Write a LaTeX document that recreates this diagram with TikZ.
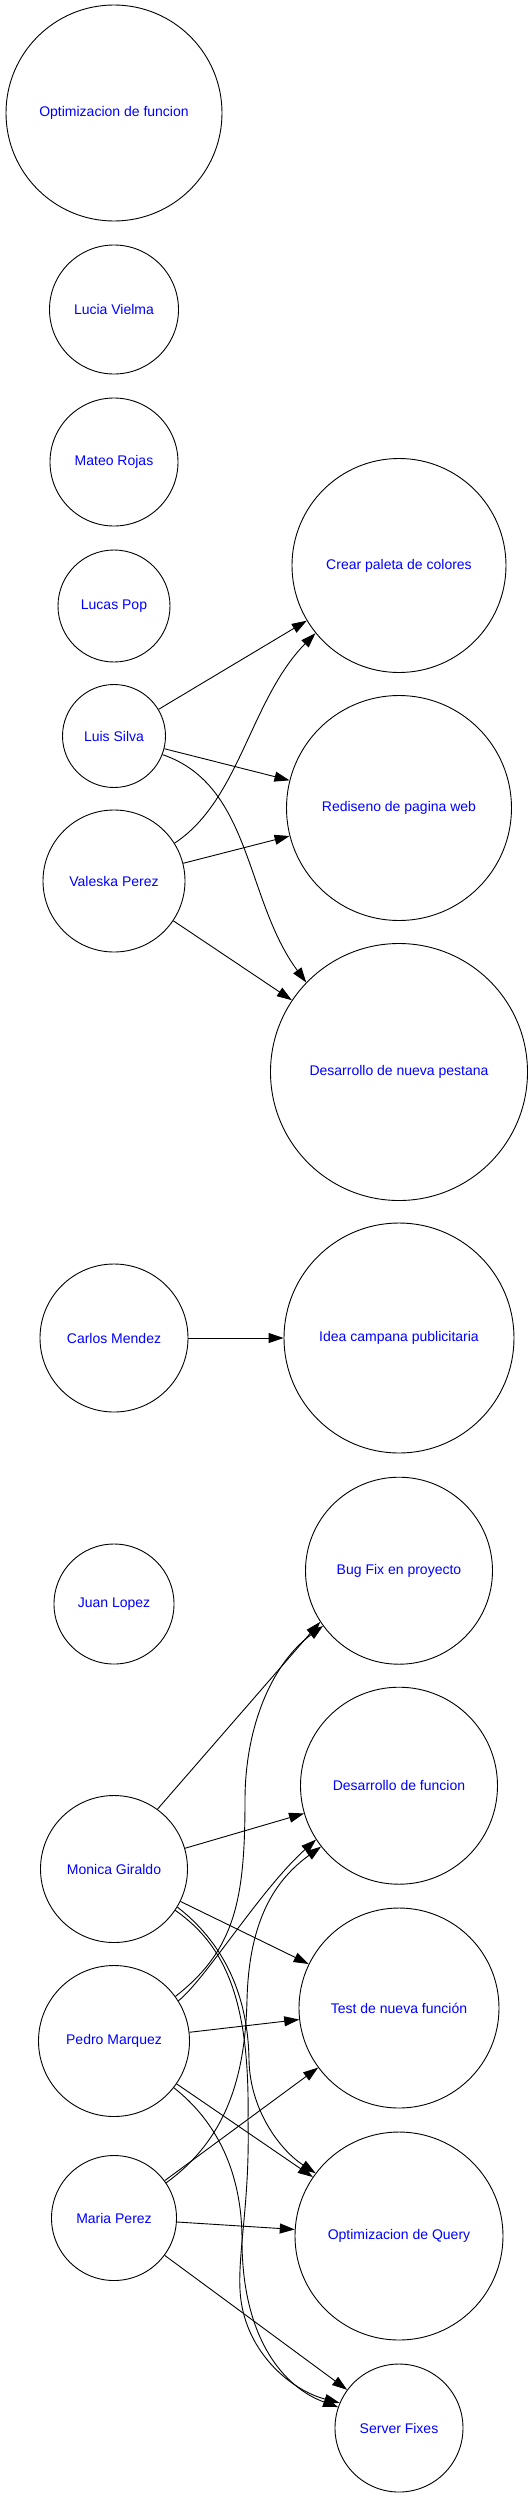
\documentclass[tikz,border=0pt]{standalone}
\usepackage{fontspec}
\setmainfont{Liberation Sans}
\usetikzlibrary{arrows.meta}

\tikzset{
    nd/.style={circle,draw,line width=0.9pt,inner sep=0pt,text=blue,font=\fontsize{14}{17}\selectfont},
    arr/.style={-{Triangle[length=15pt,width=10pt]},line width=0.9pt}
}

\begin{document}
\begin{tikzpicture}[x=1pt,y=-1pt]
        \useasboundingbox (0,0) rectangle (531,2497);
        % personas
        \node[nd,minimum size=216pt] (opf) at (114,113) {Optimizacion de funcion};
        \node[nd,minimum size=129pt] (lucia) at (114,309.5) {Lucia Vielma};
        \node[nd,minimum size=128pt] (mateo) at (114,462) {Mateo Rojas};
        \node[nd,minimum size=112pt] (lucas) at (114,606) {Lucas Pop};
        \node[nd,minimum size=103pt] (luis) at (114,736) {Luis Silva};
        \node[nd,minimum size=142pt] (valeska) at (114,881) {Valeska Perez};
        \node[nd,minimum size=148pt] (carlos) at (114,1338) {Carlos Mendez};
        \node[nd,minimum size=120pt] (juan) at (114,1604) {Juan Lopez};
        \node[nd,minimum size=147pt] (monica) at (114,1869) {Monica Giraldo};
        \node[nd,minimum size=151pt] (pedro) at (114,2041) {Pedro Marquez};
        \node[nd,minimum size=125pt] (maria) at (114,2218) {Maria Perez};
        % tareas
        \node[nd,minimum size=214pt] (crear) at (399,565.5) {Crear paleta de colores};
        \node[nd,minimum size=225pt] (redis) at (399,808) {Rediseno de pagina web};
        \node[nd,minimum size=257pt] (pestana) at (399,1072) {Desarrollo de nueva pestana};
        \node[nd,minimum size=230pt] (idea) at (399,1338) {Idea campana publicitaria};
        \node[nd,minimum size=187pt] (bugfix) at (399,1570.7) {Bug Fix en proyecto};
        \node[nd,minimum size=197pt] (desfun) at (399,1785.7) {Desarrollo de funcion};
        \node[nd,minimum size=200pt] (test) at (399,2008) {Test de nueva función};
        \node[nd,minimum size=208pt] (query) at (399,2236) {Optimizacion de Query};
        \node[nd,minimum size=128pt] (server) at (399,2428) {Server Fixes};

        \draw[arr] (luis) -- (crear);
        \draw[arr] (luis) -- (redis);
        \draw[arr] (luis.-21) .. controls (252,785) and (245,900) .. (pestana.136);
        \draw[arr] (valeska.32) .. controls (240,800) and (250,700) .. (crear.-141);
        \draw[arr] (valeska) -- (redis);
        \draw[arr] (valeska) -- (pestana);
        \draw[arr] (carlos) -- (idea);

        \draw[arr] (monica.54) -- (bugfix.213);
        \draw[arr] (monica) -- (desfun);
        \draw[arr] (monica) -- (test);
        \draw[arr] (monica.-31) .. controls (220,1940) and (248,1990) .. (249,2060)
            .. controls (250,2110) and (280,2150) .. (query.143);
        \draw[arr] (monica.-34) .. controls (225,1945) and (250,2000) .. (248,2120)
            .. controls (250,2200) and (238,2250) .. (240,2290)
            .. controls (243,2350) and (290,2390) .. (server.157);

        \draw[arr] (pedro.36) .. controls (235,1950) and (245,1900) .. (245,1800)
            .. controls (245,1730) and (270,1665) .. (bugfix.216);
        \draw[arr] (pedro.32) .. controls (205,1980) and (260,1890) .. (desfun.213);
        \draw[arr] (pedro) -- (test);
        \draw[arr] (pedro) -- (query);
        \draw[arr] (pedro.-38) .. controls (215,2120) and (242,2170) .. (242,2240)
            .. controls (242,2340) and (285,2388) .. (server.161);

        \draw[arr] (maria.34) .. controls (225,2140) and (245,2080) .. (247,2000)
            .. controls (249,1920) and (275,1880) .. (desfun.218);
        \draw[arr] (maria) -- (test);
        \draw[arr] (maria) -- (query);
        \draw[arr] (maria) -- (server);
    \end{tikzpicture}
\end{document}
